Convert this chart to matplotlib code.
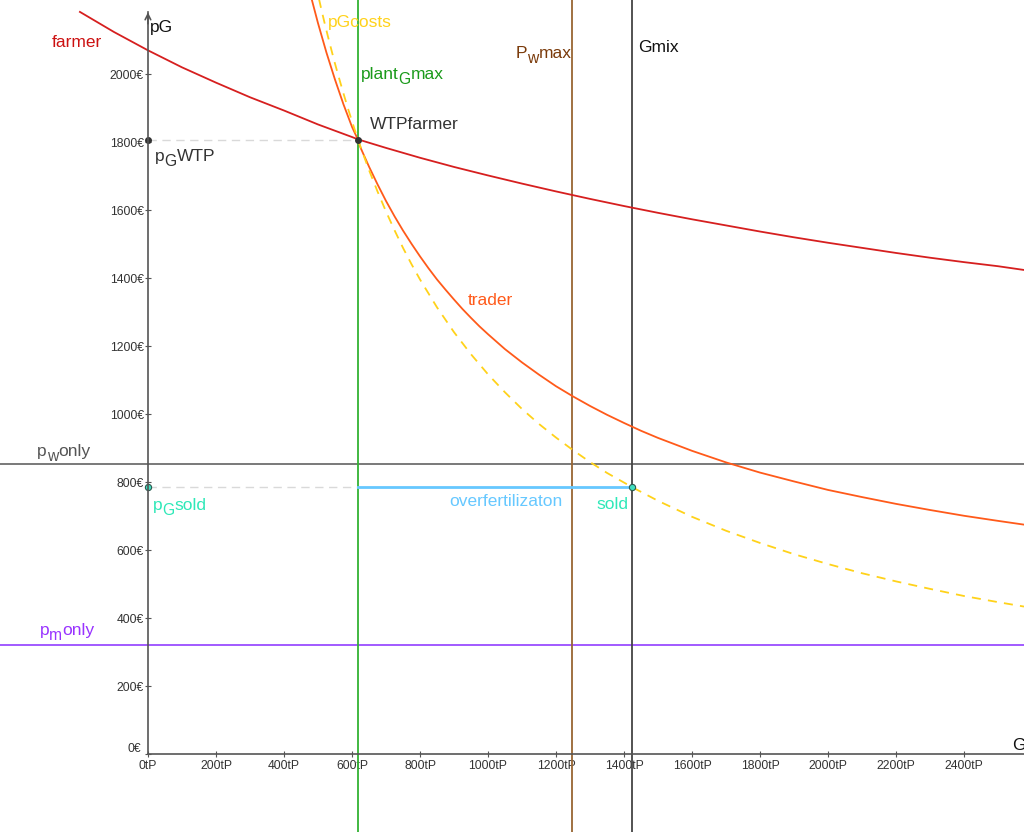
import matplotlib.pyplot as plt
from matplotlib.transforms import ScaledTranslation

plt.rcParams['font.family'] = ['Liberation Sans', 'DejaVu Sans']

# curves (x in tP, y in EUR)
farmer_x = [-200, -100, 0, 100, 200, 300, 400, 500, 600, 618, 700, 800, 900, 1000, 1100, 1200, 1300,
            1400, 1500, 1600, 1700, 1800, 1900, 2000, 2100, 2200, 2300, 2400, 2500, 2576]
farmer_y = [2183, 2124, 2070, 2020, 1975, 1932, 1893, 1852, 1815, 1808, 1783, 1754, 1727, 1702, 1678, 1655, 1633,
            1612, 1592, 1573, 1555, 1537, 1520, 1504, 1489, 1474, 1460, 1447, 1435, 1424]

trader_x = [480, 500, 525, 550, 575, 600, 618, 625, 650, 675, 700, 725, 750, 775, 800, 825, 850, 875,
            900, 925, 950, 975, 1000, 1050, 1100, 1150, 1200, 1250, 1300, 1350, 1400, 1450, 1500, 1600,
            1700, 1800, 1900, 2000, 2100, 2200, 2300, 2400, 2500, 2576]
trader_y = [2226, 2150, 2063, 1984, 1911, 1845, 1806, 1784, 1728, 1676, 1627, 1582, 1540, 1501, 1464, 1429, 1396, 1366,
            1337, 1309, 1283, 1258, 1235, 1191, 1152, 1116, 1082, 1052, 1024, 998, 974, 951, 930, 892,
            858, 828, 802, 777, 756, 736, 718, 701, 686, 675]

costs_x = [500, 510, 520, 530, 540, 550, 560, 575, 590, 605, 618, 635, 650, 675, 700, 725, 750, 775, 800,
           850, 900, 950, 1000, 1050, 1100, 1150, 1200, 1250, 1300, 1350, 1424, 1500, 1600, 1700, 1800,
           1900, 2000, 2100, 2200, 2300, 2400, 2500, 2576]
costs_y = [2234, 2190, 2148, 2108, 2069, 2031, 1995, 1943, 1893, 1846, 1806, 1759, 1718, 1655, 1596, 1541, 1489, 1441, 1396,
           1314, 1241, 1176, 1117, 1064, 1015, 971, 931, 894, 859, 827, 785, 745, 698, 657, 621,
           588, 559, 532, 508, 486, 465, 447, 434]

plant_g_max = 618
pw_max = 1247
g_mix = 1424
pw_only = 853
pm_only = 320
pg_wtp = 1806
pg_sold = 785

y_ticks = [0, 200, 400, 600, 800, 1000, 1200, 1400, 1600, 1800, 2000]
x_ticks = [0, 200, 400, 600, 800, 1000, 1200, 1400, 1600, 1800, 2000, 2200, 2400]

fs = 12.5


def sub_label(ax, x, y, base, sub, rest, color):
    # GeoGebra style label: base, lowered subscript, rest of text
    t1 = ax.text(x, y, base, fontsize=fs, color=color, va='bottom', ha='left')
    t2 = ax.annotate(sub, xy=(1, 0), xycoords=t1, xytext=(0, -3.6), textcoords='offset points',
                     fontsize=fs * 0.9, color=color, va='bottom', ha='left')
    ax.annotate(rest, xy=(1, 0), xycoords=t2, xytext=(0, 3.6), textcoords='offset points',
                fontsize=fs, color=color, va='bottom', ha='left')


fig = plt.figure(figsize=(10.24, 8.32), dpi=100)
ax = fig.add_axes([0, 0, 1, 1])
ax.set_xlim(-435, 2576)
ax.set_ylim(-229, 2218)

# axes through the origin
for s in ['top', 'right']:
    ax.spines[s].set_visible(False)
ax.spines['left'].set_position(('data', 0))
ax.spines['bottom'].set_position(('data', 0))
ax.spines['left'].set_bounds(0, 2182)
ax.spines['bottom'].set_bounds(0, 2576)
for s in ['left', 'bottom']:
    ax.spines[s].set_color('#555555')
    ax.spines[s].set_linewidth(1.2)
ax.annotate('', xy=(0, 2190), xytext=(0, 2140),
            arrowprops=dict(arrowstyle='->', color='#555555', lw=1.2))

ax.set_xticks(x_ticks)
ax.set_xticklabels([f'{t}tP' for t in x_ticks])
ax.set_yticks(y_ticks)
ax.set_yticklabels([f'{t}€' for t in y_ticks])
ax.tick_params(axis='both', direction='inout', length=4, width=0.8, color='#555555',
               labelsize=8.7, labelcolor='#333333', pad=1)
ax.tick_params(axis='x', pad=2)

# the "0€" label sits a little above its tick, clear of "0tP"
zero_lab = ax.get_yticklabels()[0]
zero_lab.set_transform(zero_lab.get_transform() + ScaledTranslation(-2 / 72, 5 / 72, fig.dpi_scale_trans))

# straight lines
ax.axhline(pw_only, color='#6e6e6e', lw=1.3)
ax.axhline(pm_only, color='#9a4dff', lw=1.3)
ax.axvline(plant_g_max, color='#33b233', lw=1.3)
ax.axvline(pw_max, color='#996633', lw=1.3)
ax.axvline(g_mix, color='#444444', lw=1.3)

ax.plot([0, plant_g_max], [pg_wtp, pg_wtp], color='#d9d9d9', lw=1.0, ls=(0, (6, 4)))
ax.plot([0, plant_g_max], [pg_sold, pg_sold], color='#d9d9d9', lw=1.0, ls=(0, (6, 4)))
ax.plot([plant_g_max, g_mix], [pg_sold, pg_sold], color='#66c8ff', lw=2.0)

# curves
ax.plot(farmer_x, farmer_y, color='#d61f1f', lw=1.3)
ax.plot(trader_x, trader_y, color='#ff5a1a', lw=1.3)
ax.plot(costs_x, costs_y, color='#ffd21a', lw=1.3, ls=(0, (5, 4)))

# points
ax.plot([plant_g_max, 0], [pg_wtp, pg_wtp], 'o', ms=4, color='#333333')
ax.plot([0, g_mix], [pg_sold, pg_sold], 'o', ms=4.5, mfc='#40e0c0', mec='#2a5a50', mew=0.8)

ax.text(6, 2138, 'pG', fontsize=fs, color='#111111', va='center')
ax.text(2541, 26, 'G', fontsize=fs, color='#111111', va='center')
ax.text(-282, 2094, 'farmer', fontsize=fs, color='#cc1111', va='center')
ax.text(529, 2153, 'pGcosts', fontsize=fs, color='#ffd21a', va='center')
ax.text(653, 1853, 'WTPfarmer', fontsize=fs, color='#333333', va='center')
ax.text(941, 1335, 'trader', fontsize=fs, color='#ff5a1a', va='center')
ax.text(1441, 2079, 'Gmix', fontsize=fs, color='#111111', va='center')
ax.text(885, 744, 'overfertilizaton', fontsize=fs, color='#66c8ff', va='center')
ax.text(1318, 735, 'sold', fontsize=fs, color='#2ee8b8', va='center')

sub_label(ax, 626, 1977, 'plant', 'G', 'max', '#1a9a1a')
sub_label(ax, 21, 1736, 'p', 'G', 'WTP', '#333333')
sub_label(ax, 1082, 2039, 'P', 'w', 'max', '#7a3a0a')
sub_label(ax, -326, 869, 'p', 'w', 'only', '#555555')
sub_label(ax, 15, 710, 'p', 'G', 'sold', '#2ee8b8')
sub_label(ax, -318, 342, 'p', 'm', 'only', '#9933ff')

fig.savefig('out.png', dpi=100)
